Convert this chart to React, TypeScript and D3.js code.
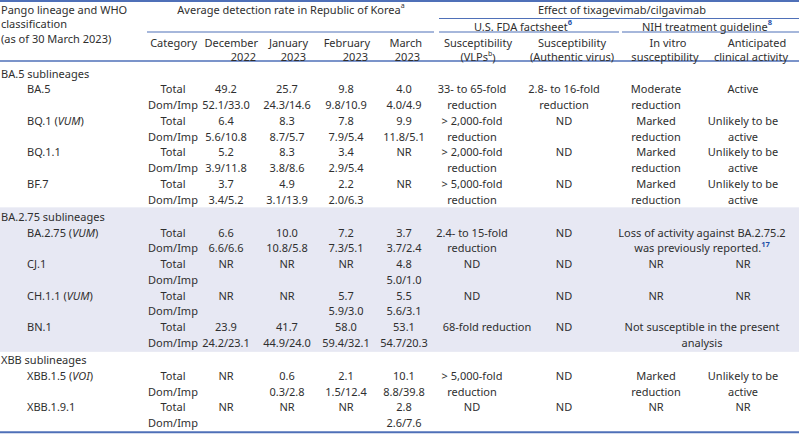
import React from "react";
import * as d3 from "d3";

// ---------- DATA ----------
const sections = ["BA.5 sublineages", "BA.2.75 sublineages", "XBB sublineages"];
const lineages = ["BA.5", "BQ.1", "BQ.1.1", "BF.7", "BA.2.75", "CJ.1", "CH.1.1", "BN.1", "XBB.1.5", "XBB.1.9.1"];
const whoClass = ["", "VUM", "", "", "VUM", "", "VUM", "", "VOI", ""];
const lineageSection = [0, 0, 0, 0, 1, 1, 1, 1, 2, 2];
const categories = ["Total", "Dom/Imp"];
const monthHeaders = [["December", "2022"], ["January", "2023"], ["February", "2023"], ["March", "2023"]];

const totalDec = ["49.2", "6.4", "5.2", "3.7", "6.6", "NR", "NR", "23.9", "NR", "NR"];
const totalJan = ["25.7", "8.3", "8.3", "4.9", "10.0", "NR", "NR", "41.7", "0.6", "NR"];
const totalFeb = ["9.8", "7.8", "3.4", "2.2", "7.2", "NR", "5.7", "58.0", "2.1", "NR"];
const totalMar = ["4.0", "9.9", "NR", "NR", "3.7", "4.8", "5.5", "53.1", "10.1", "2.8"];
const domImpDec = ["52.1/33.0", "5.6/10.8", "3.9/11.8", "3.4/5.2", "6.6/6.6", "", "", "24.2/23.1", "", ""];
const domImpJan = ["24.3/14.6", "8.7/5.7", "3.8/8.6", "3.1/13.9", "10.8/5.8", "", "", "44.9/24.0", "0.3/2.8", ""];
const domImpFeb = ["9.8/10.9", "7.9/5.4", "2.9/5.4", "2.0/6.3", "7.3/5.1", "", "5.9/3.0", "59.4/32.1", "1.5/12.4", ""];
const domImpMar = ["4.0/4.9", "11.8/5.1", "", "", "3.7/2.4", "5.0/1.0", "5.6/3.1", "54.7/20.3", "8.8/39.8", "2.6/7.6"];

const fdaVLP = [
  ["33- to 65-fold", "reduction"], ["> 2,000-fold", "reduction"], ["> 2,000-fold", "reduction"],
  ["> 5,000-fold", "reduction"], ["2.4- to 15-fold", "reduction"], ["ND"], ["ND"],
  ["68-fold reduction"], ["> 5,000-fold", "reduction"], ["ND"],
];
const fdaAuthentic = [
  ["2.8- to 16-fold", "reduction"], ["ND"], ["ND"], ["ND"], ["ND"], ["ND"], ["ND"], ["ND"], ["ND"], ["ND"],
];
const nihInVitro = [
  ["Moderate", "reduction"], ["Marked", "reduction"], ["Marked", "reduction"], ["Marked", "reduction"],
  null, ["NR"], ["NR"], null, ["Marked", "reduction"], ["NR"],
];
const nihClinical = [
  ["Active"], ["Unlikely to be", "active"], ["Unlikely to be", "active"], ["Unlikely to be", "active"],
  null, ["NR"], ["NR"], null, ["Unlikely to be", "active"], ["NR"],
];
const nihMerged = [
  null, null, null, null,
  { lines: ["Loss of activity against BA.2.75.2", "was previously reported."], ref: "17" },
  null, null,
  { lines: ["Not susceptible in the present", "analysis"], ref: "" },
  null, null,
];

// ---------- LAYOUT ----------
const W = 799;
const H = 434;
const FONT = "'Noto Sans', sans-serif";
const FS = 11;
const TXT = "#2f2f2f";
const BLUE = "#4f70b8";
const REF = "#1f4fa8";
const SHADE = "#e7e8f3";

const colX = {
  pango: 1,
  lineage: 27,
  cat: 173,
  months: [226, 287, 346, 404],
  monthHdrEnd: [258, 308, 370, 422],
  vlp: 472,
  auth: 564,
  vitro: 656,
  clin: 743,
  merged: 702,
};

export default function App() {
  type Line = { kind: "section" | "total" | "dom"; sec: number; li: number };
  const lines: Line[] = [];
  sections.forEach((_, s) => {
    lines.push({ kind: "section", sec: s, li: -1 });
    lineages.forEach((_, i) => {
      if (lineageSection[i] === s) {
        lines.push({ kind: "total", sec: s, li: i });
        lines.push({ kind: "dom", sec: s, li: i });
      }
    });
  });
  const yLin = d3.scaleLinear().domain([0, lines.length - 1]).range([73, 73 + (lines.length - 1) * 15.75]);
  const yOf = (idx: number) => yLin(idx) + lines[idx].sec * 1.6;

  const totals = [totalDec, totalJan, totalFeb, totalMar];
  const doms = [domImpDec, domImpJan, domImpFeb, domImpMar];

  const txt = (x: number, y: number, s: string, anchor = "middle", key?: any) => (
    <text key={key} x={x} y={y} textAnchor={anchor} dominantBaseline="central">{s}</text>
  );

  const shadeIdx = lines.map((l, i) => (l.sec === 1 ? i : -1)).filter((i) => i >= 0);
  const shadeTop = yOf(shadeIdx[0]) - 9;
  const shadeBot = yOf(shadeIdx[shadeIdx.length - 1]) + 9.5;

  const body: any[] = [];
  lines.forEach((l, idx) => {
    const y = yOf(idx);
    if (l.kind === "section") {
      body.push(txt(colX.pango, y, sections[l.sec], "start", `s${idx}`));
      return;
    }
    const i = l.li;
    if (l.kind === "total") {
      body.push(
        <text key={`n${idx}`} x={colX.lineage} y={y} dominantBaseline="central">
          {lineages[i]}
          {whoClass[i] ? (
            <>
              {" ("}
              <tspan fontStyle="italic">{whoClass[i]}</tspan>
              {")"}
            </>
          ) : null}
        </text>
      );
      body.push(txt(colX.cat, y, categories[0], "middle", `c${idx}`));
      totals.forEach((arr, m) => arr[i] && body.push(txt(colX.months[m], y, arr[i], "middle", `t${idx}-${m}`)));
      const multi = (arr: string[] | null, x: number, k: string) => {
        if (!arr) return;
        arr.forEach((s, j) => body.push(txt(x, y + j * 15.75, s, "middle", `${k}${idx}-${j}`)));
      };
      const vlpX = fdaVLP[i].length === 1 && fdaVLP[i][0].length > 10 ? colX.vlp + 15 : colX.vlp;
      multi(fdaVLP[i], vlpX, "v");
      multi(fdaAuthentic[i], colX.auth, "a");
      multi(nihInVitro[i], colX.vitro, "iv");
      multi(nihClinical[i], colX.clin, "cl");
      const mg = nihMerged[i];
      if (mg) {
        mg.lines.forEach((s, j) => {
          const last = j === mg.lines.length - 1;
          body.push(
            <text key={`mg${idx}-${j}`} x={colX.merged} y={y + j * 15.75} textAnchor="middle" dominantBaseline="central">
              {s}
              {last && mg.ref ? (
                <tspan fill={REF} fontWeight="bold" fontSize={7.5} dy={-4}>{mg.ref}</tspan>
              ) : null}
            </text>
          );
        });
      }
    } else {
      body.push(txt(colX.cat, y, categories[1], "middle", `c${idx}`));
      doms.forEach((arr, m) => arr[i] && body.push(txt(colX.months[m], y, arr[i], "middle", `d${idx}-${m}`)));
    }
  });

  const lastY = yOf(lines.length - 1);

  return (
    <svg width={W} height={H} style={{ position: "absolute", left: 0, top: 0, background: "#fff" }}
      fontFamily={FONT} fontSize={FS} fill={TXT}>
      <rect x={0} y={shadeTop} width={W} height={shadeBot - shadeTop} fill={SHADE} />

      <line x1={0} x2={W} y1={1} y2={1} stroke={BLUE} strokeWidth={2} />
      <line x1={147} x2={434} y1={32} y2={32} stroke={BLUE} strokeWidth={1.2} />
      <line x1={439} x2={W} y1={18.5} y2={18.5} stroke={BLUE} strokeWidth={1.2} />
      <line x1={439} x2={619} y1={32} y2={32} stroke={BLUE} strokeWidth={1.2} />
      <line x1={622} x2={W} y1={32} y2={32} stroke={BLUE} strokeWidth={1.2} />
      <line x1={0} x2={W} y1={61} y2={61} stroke={BLUE} strokeWidth={1.5} />
      <line x1={0} x2={W} y1={lastY + 9.5} y2={lastY + 9.5} stroke={BLUE} strokeWidth={2} />

      {txt(colX.pango, 9.5, "Pango lineage and WHO", "start", "h1")}
      {txt(colX.pango, 23.5, "classification", "start", "h2")}
      {txt(colX.pango, 38, "(as of 30 March 2023)", "start", "h3")}
      <text x={291} y={9} textAnchor="middle" dominantBaseline="central">
        Average detection rate in Republic of Korea<tspan fontSize={7} dy={-4}>a</tspan>
      </text>
      <text x={622} y={9} textAnchor="middle" dominantBaseline="central">Effect of tixagevimab/cilgavimab</text>
      <text x={523} y={26} textAnchor="middle" dominantBaseline="central">
        U.S. FDA factsheet<tspan fill={REF} fontWeight="bold" fontSize={7.5} dy={-4}>6</tspan>
      </text>
      <text x={707} y={26} textAnchor="middle" dominantBaseline="central">
        NIH treatment guideline<tspan fill={REF} fontWeight="bold" fontSize={7.5} dy={-4}>8</tspan>
      </text>
      {txt(197, 42, "Category", "end", "hc")}
      {monthHeaders.map((mh, m) => (
        <g key={`mh${m}`}>
          {txt(colX.monthHdrEnd[m], 42, mh[0], "end")}
          {txt(colX.monthHdrEnd[m] - 2, 56.5, mh[1], "end")}
        </g>
      ))}
      {txt(478, 42, "Susceptibility", "middle", "hv1")}
      <text x={478} y={56.5} textAnchor="middle" dominantBaseline="central">
        (VLPs<tspan fontSize={7} dy={-3.5}>b</tspan><tspan dy={3.5}>)</tspan>
      </text>
      {txt(572, 42, "Susceptibility", "middle", "ha1")}
      {txt(572, 56.5, "(Authentic virus)", "middle", "ha2")}
      {txt(668, 42, "In vitro", "middle", "hi1")}
      {txt(665, 56.5, "susceptibility", "middle", "hi2")}
      {txt(757, 42, "Anticipated", "middle", "hk1")}
      {txt(751, 56.5, "clinical activity", "middle", "hk2")}

      {body}
    </svg>
  );
}
